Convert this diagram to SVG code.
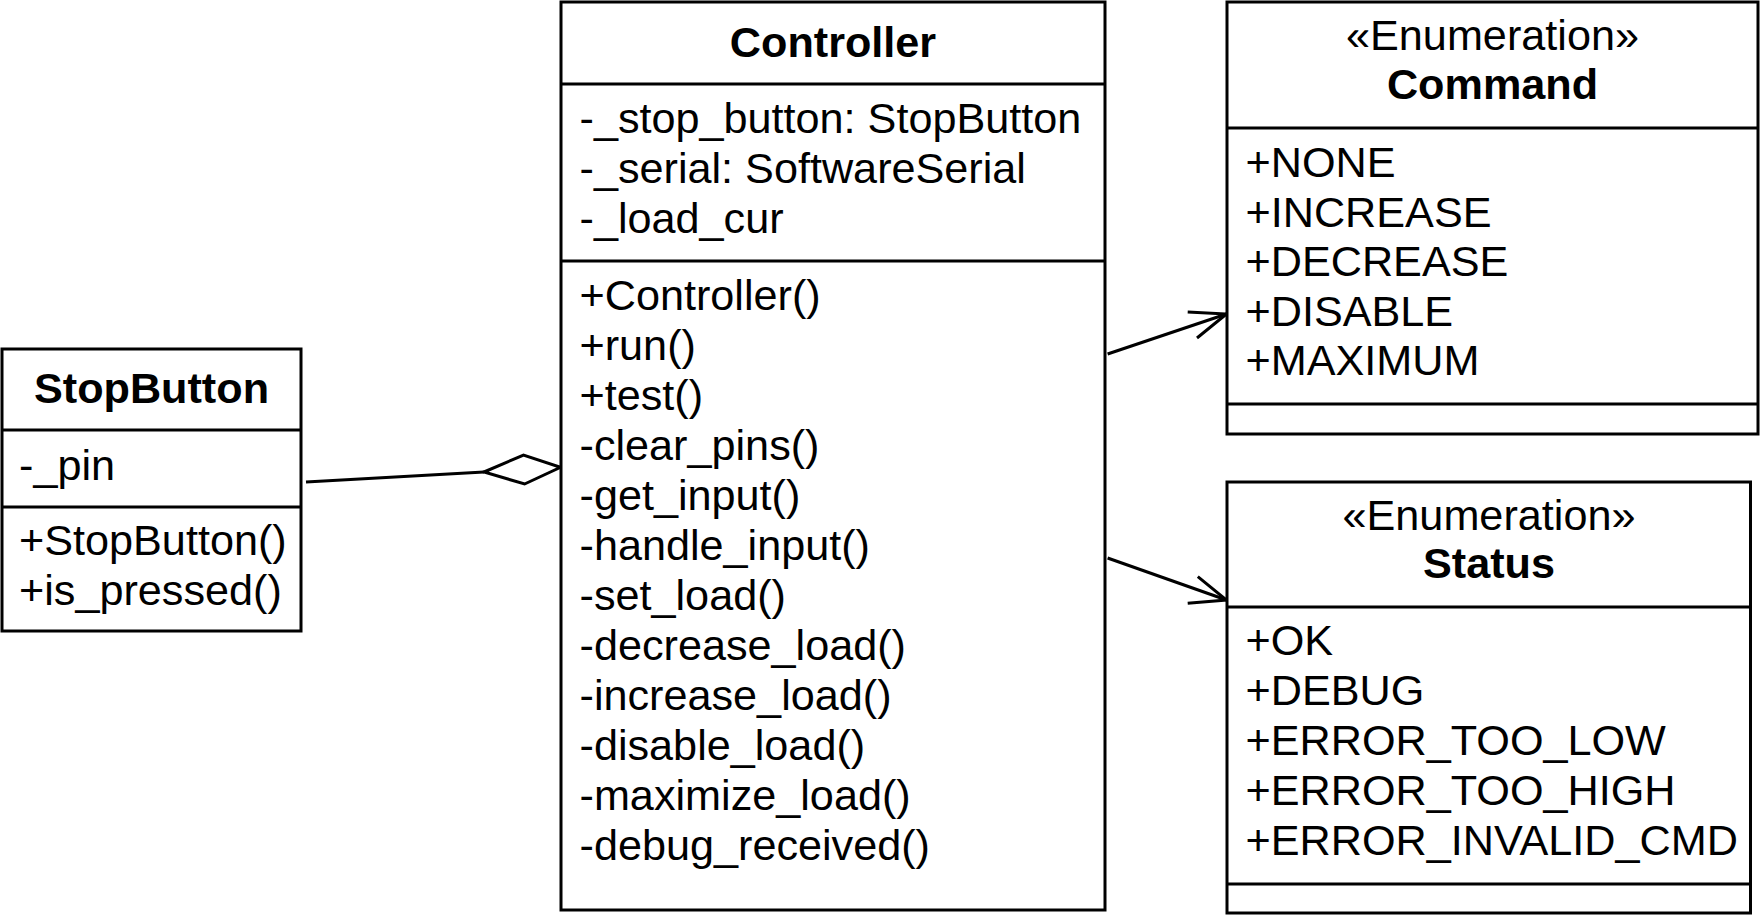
<svg xmlns="http://www.w3.org/2000/svg" width="1761" height="916" viewBox="0 0 1761 916">
<style>
.box{fill:#fff;stroke:#000;stroke-width:3}
.sep{stroke:#000;stroke-width:3}
.t{font-family:"Liberation Sans",Arial,sans-serif;font-size:43.2px;fill:#000}
.b{font-weight:bold;text-anchor:middle}
.c{text-anchor:middle}
.conn{fill:none;stroke:#000;stroke-width:3}
</style>
<rect width="1761" height="916" fill="#fff"/>
<g id="connectors">
<line class="conn" x1="306" y1="482" x2="484" y2="472"/>
<polygon class="conn" points="484,472 523.5,455 560.5,467.3 524.6,484" style="fill:#fff"/>
<line class="conn" x1="1107.6" y1="354" x2="1226.5" y2="314"/>
<polyline class="conn" points="1187.7,312 1226.5,314 1197,338"/>
<line class="conn" x1="1107.6" y1="558" x2="1226.5" y2="600"/>
<polyline class="conn" points="1197.8,576.7 1226.5,600 1187.7,603.3"/>
</g>
<g id="StopButton">
<rect class="box" x="2" y="349" width="299" height="282"/>
<line class="sep" x1="2" y1="430" x2="301" y2="430"/>
<line class="sep" x1="2" y1="507" x2="301" y2="507"/>
<text class="t b" x="151.5" y="403">StopButton</text>
<text class="t" x="19" y="480">-_pin</text>
<text class="t" x="19" y="555">+StopButton()</text>
<text class="t" x="19" y="605">+is_pressed()</text>
</g>
<g id="Controller">
<rect class="box" x="561" y="2" width="544" height="908"/>
<line class="sep" x1="561" y1="84" x2="1105" y2="84"/>
<line class="sep" x1="561" y1="261" x2="1105" y2="261"/>
<text class="t b" x="833" y="57">Controller</text>
<text class="t" x="579.5" y="133">-_stop_button: StopButton</text>
<text class="t" x="579.5" y="183">-_serial: SoftwareSerial</text>
<text class="t" x="579.5" y="233">-_load_cur</text>
<text class="t" x="579.5" y="310">+Controller()</text>
<text class="t" x="579.5" y="360">+run()</text>
<text class="t" x="579.5" y="410">+test()</text>
<text class="t" x="579.5" y="460">-clear_pins()</text>
<text class="t" x="579.5" y="510">-get_input()</text>
<text class="t" x="579.5" y="560">-handle_input()</text>
<text class="t" x="579.5" y="610">-set_load()</text>
<text class="t" x="579.5" y="660">-decrease_load()</text>
<text class="t" x="579.5" y="710">-increase_load()</text>
<text class="t" x="579.5" y="760">-disable_load()</text>
<text class="t" x="579.5" y="810">-maximize_load()</text>
<text class="t" x="579.5" y="860">-debug_received()</text>
</g>
<g id="Command">
<rect class="box" x="1227" y="2" width="531" height="432"/>
<line class="sep" x1="1227" y1="128" x2="1758" y2="128"/>
<line class="sep" x1="1227" y1="404" x2="1758" y2="404"/>
<text class="t c" x="1492.5" y="50">«Enumeration»</text>
<text class="t b" x="1492.5" y="99">Command</text>
<text class="t" x="1245.5" y="177">+NONE</text>
<text class="t" x="1245.5" y="227">+INCREASE</text>
<text class="t" x="1245.5" y="276">+DECREASE</text>
<text class="t" x="1245.5" y="326">+DISABLE</text>
<text class="t" x="1245.5" y="375">+MAXIMUM</text>
</g>
<g id="Status">
<rect class="box" x="1227" y="482" width="523.5" height="431"/>
<line class="sep" x1="1227" y1="607" x2="1750.5" y2="607"/>
<line class="sep" x1="1227" y1="884" x2="1750.5" y2="884"/>
<text class="t c" x="1489" y="530">«Enumeration»</text>
<text class="t b" x="1489" y="578">Status</text>
<text class="t" x="1245.5" y="655">+OK</text>
<text class="t" x="1245.5" y="705">+DEBUG</text>
<text class="t" x="1245.5" y="755">+ERROR_TOO_LOW</text>
<text class="t" x="1245.5" y="805">+ERROR_TOO_HIGH</text>
<text class="t" x="1245.5" y="855">+ERROR_INVALID_CMD</text>
</g>
</svg>
